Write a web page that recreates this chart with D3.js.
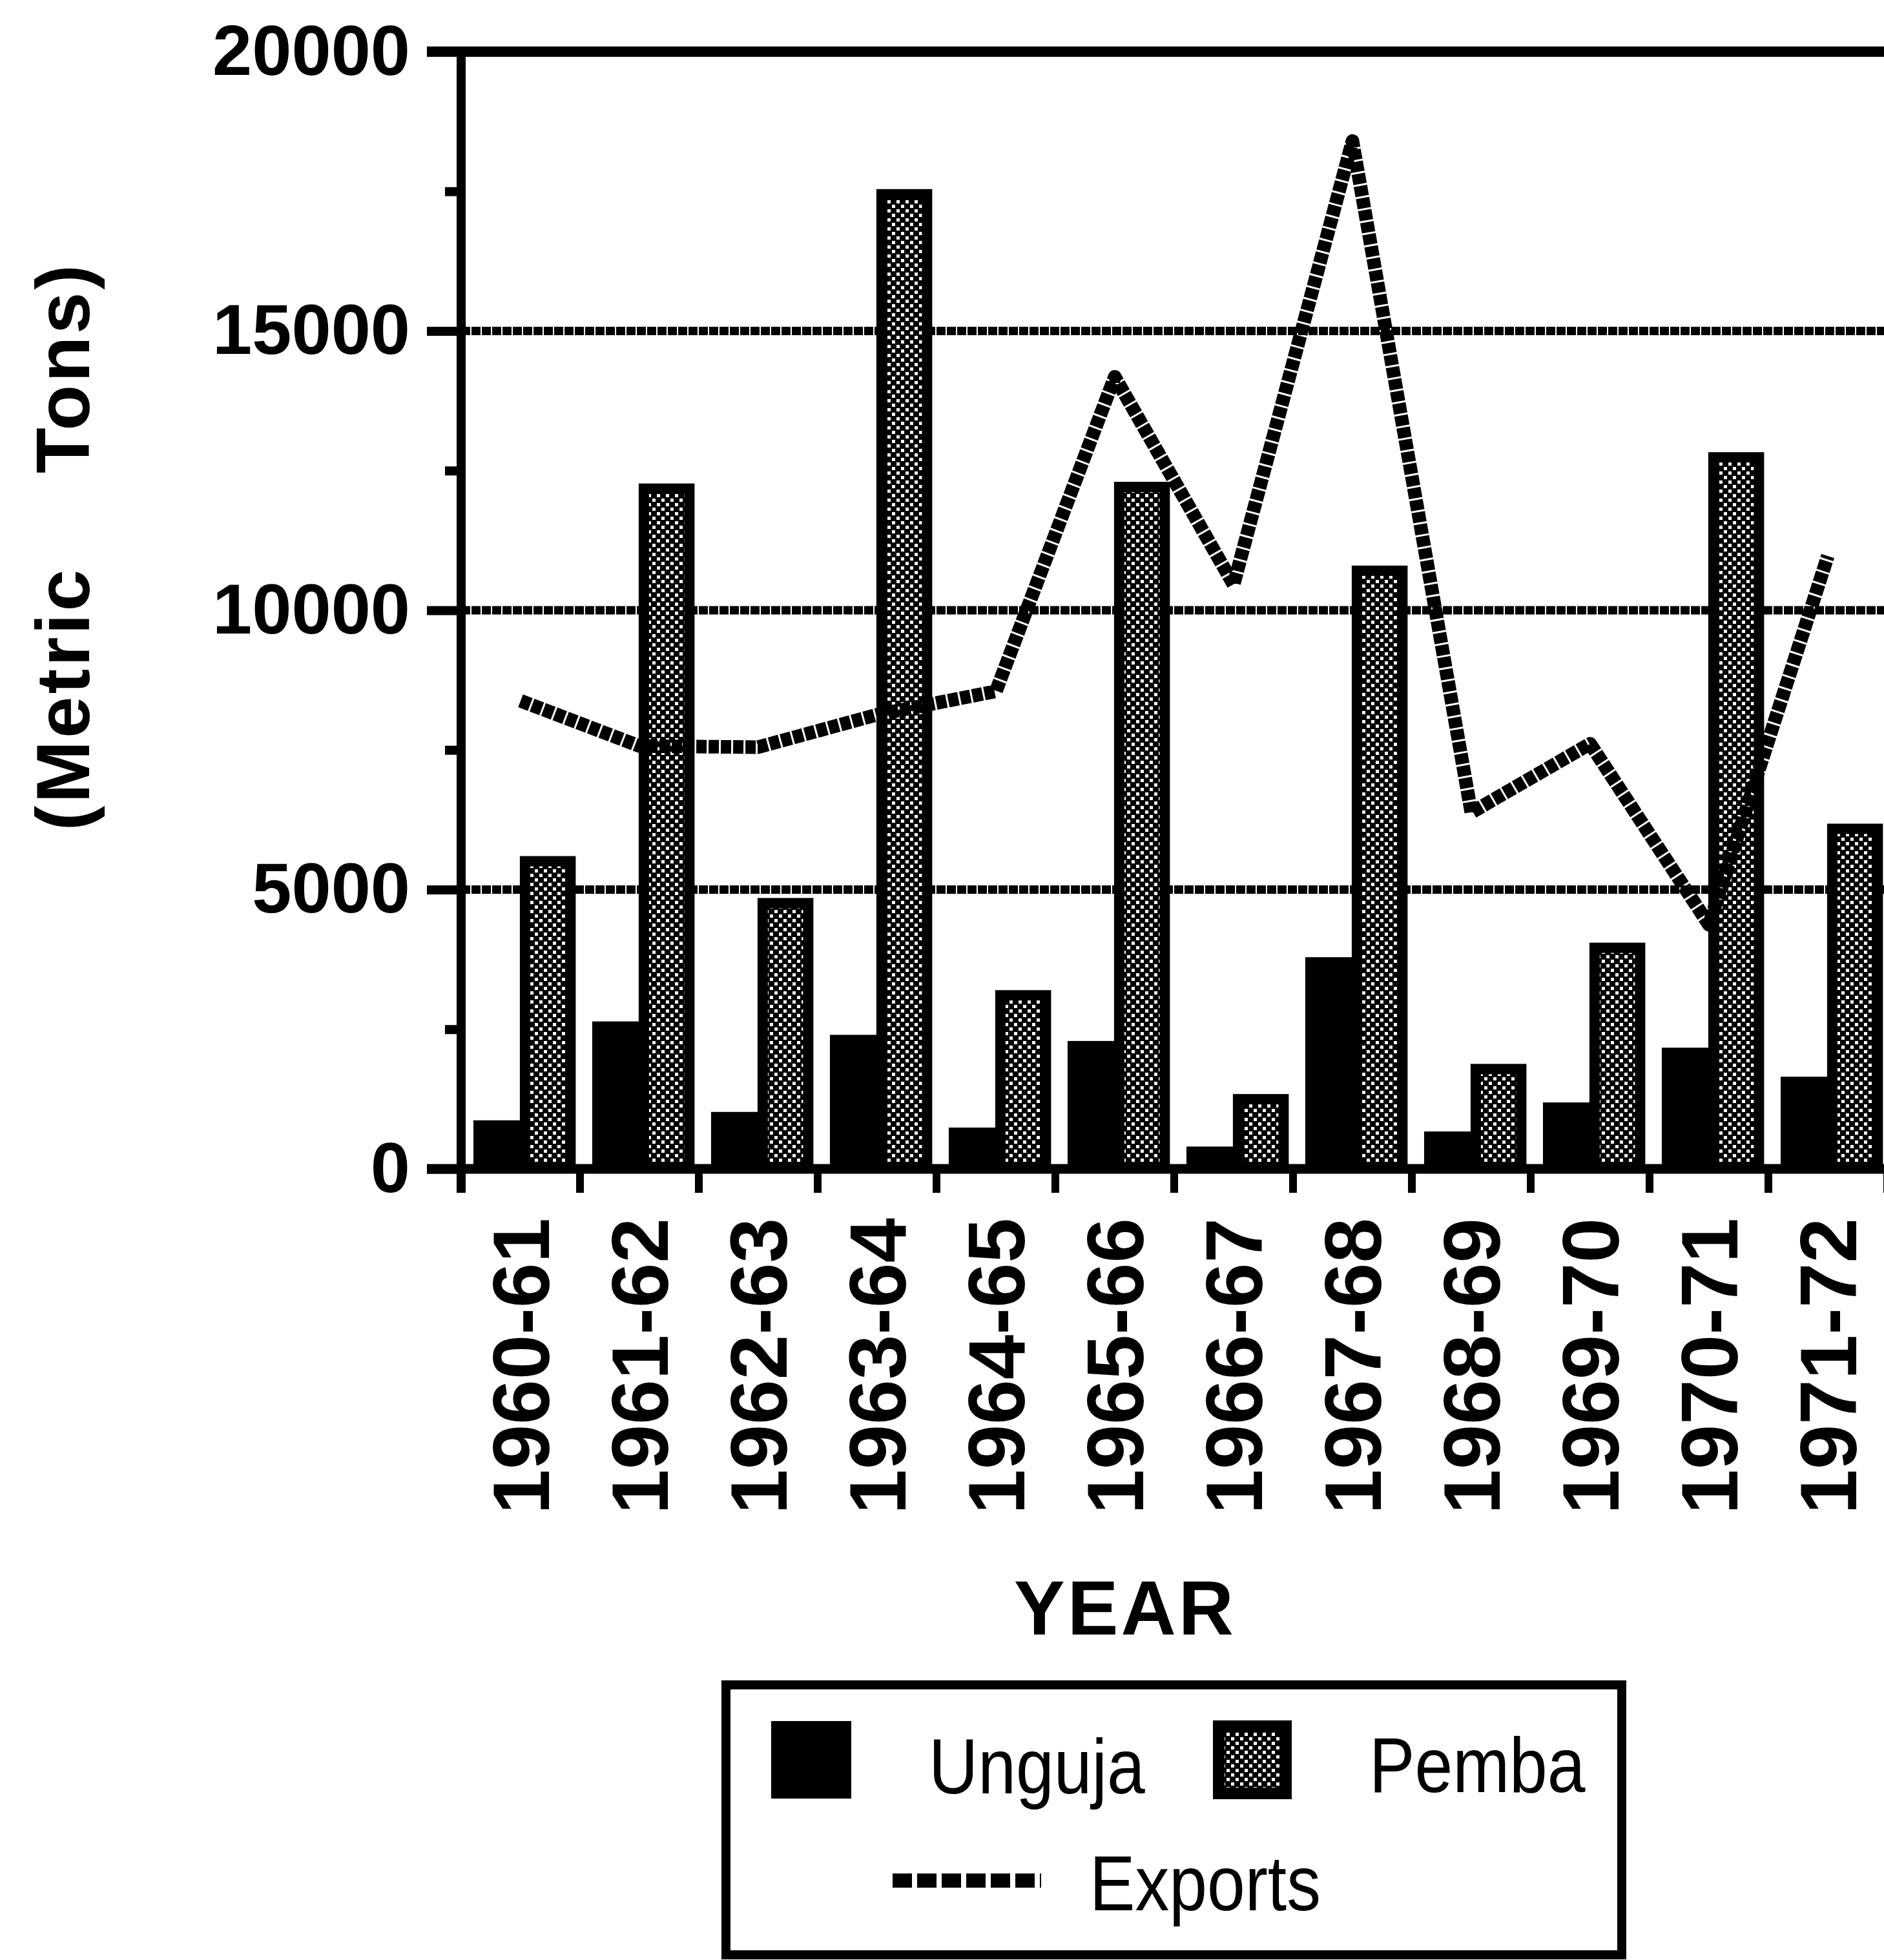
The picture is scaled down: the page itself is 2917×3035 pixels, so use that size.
<!DOCTYPE html>
<html>
<head>
<meta charset="utf-8">
<script src="https://d3js.org/d3.v7.min.js"></script>
<style>
  html, body { margin: 0; padding: 0; background: #fff; }
  svg { display: block; }
</style>
</head>
<body>
<div id="chart"></div>
<script>
// data (metric tons)
const years   = ['1960-61','1961-62','1962-63','1963-64','1964-65','1965-66',
                 '1966-67','1967-68','1968-69','1969-70','1970-71','1971-72'];
const unguja  = [870, 2640, 1020, 2400, 740, 2290, 400, 3790, 670, 1190, 2170, 1650];
const pemba   = [5600, 12270, 4850, 17540, 3200, 12300, 1340, 10800, 1880, 4050, 12830, 6180];
const exportsT = [8380, 7570, 7550, 8130, 8550, 14180, 10460, 18400, 6380, 7610, 4370, 10970];
const yMajor  = [0, 5000, 10000, 15000, 20000];
const yMinor  = [2500, 7500, 12500, 17500];
const gridVals = [5000, 10000, 15000];

const W = 2917, H = 3035;
const plotLeft = 714, plotTop = 80, plotBase = 1810;
const bandW = 184;
const FONT = '"Liberation Sans", Arial, Helvetica, sans-serif';

const svg = d3.select('#chart').append('svg')
  .attr('width', W)
  .attr('height', H);

svg.append('rect').attr('width', W).attr('height', H).attr('fill', '#fff');

// stipple fill for Pemba
const defs = svg.append('defs');
const pat = defs.append('pattern')
  .attr('id', 'stipple')
  .attr('patternUnits', 'userSpaceOnUse')
  .attr('width', 14).attr('height', 14);
pat.append('rect').attr('width', 14).attr('height', 14).attr('fill', '#000');
pat.append('rect').attr('x', 2).attr('y', 2).attr('width', 5).attr('height', 5).attr('fill', '#fff');
pat.append('rect').attr('x', 9).attr('y', 9).attr('width', 5).attr('height', 5).attr('fill', '#fff');

const x = d3.scaleBand()
  .domain(years)
  .range([plotLeft, plotLeft + bandW * years.length])
  .padding(0);
const y = d3.scaleLinear().domain([0, 20000]).range([plotBase, plotTop]);
const bw = x.bandwidth();

const rows = years.map((yr, i) => ({ yr, u: unguja[i], p: pemba[i], e: exportsT[i] }));

// gridlines
svg.append('g').attr('class', 'grid')
  .selectAll('line').data(gridVals).join('line')
  .attr('x1', plotLeft).attr('x2', W)
  .attr('y1', d => y(d)).attr('y2', d => y(d))
  .attr('stroke', '#000')
  .attr('stroke-width', 13)
  .attr('stroke-dasharray', '14 2');

// bars
const bars = svg.append('g').attr('class', 'bars');
bars.selectAll('rect.u').data(rows).join('rect')
  .attr('class', 'u')
  .attr('x', d => x(d.yr) + bw * 0.103)
  .attr('width', bw * 0.395)
  .attr('y', d => y(d.u))
  .attr('height', d => plotBase - y(d.u))
  .attr('fill', '#000');

const inset = 16;
bars.selectAll('rect.p').data(rows).join('rect')
  .attr('class', 'p')
  .attr('x', d => x(d.yr) + bw * 0.494)
  .attr('width', bw * 0.47)
  .attr('y', d => y(d.p))
  .attr('height', d => plotBase - y(d.p))
  .attr('fill', '#000');
bars.selectAll('rect.pi').data(rows).join('rect')
  .attr('class', 'pi')
  .attr('x', d => x(d.yr) + bw * 0.494 + inset)
  .attr('width', bw * 0.47 - 2 * inset)
  .attr('y', d => y(d.p) + inset)
  .attr('height', d => Math.max(0, plotBase - y(d.p) - inset - 10))
  .attr('fill', 'url(#stipple)');

// exports line
const line = d3.line()
  .x(d => x(d.yr) + bw / 2)
  .y(d => y(d.e));
svg.append('path')
  .datum(rows)
  .attr('d', line)
  .attr('fill', 'none')
  .attr('stroke', '#000')
  .attr('stroke-width', 21)
  .attr('stroke-dasharray', '16 3')
  .attr('stroke-linejoin', 'round');

// frame: top line, left axis, baseline
svg.append('line')
  .attr('x1', plotLeft - 53).attr('x2', W)
  .attr('y1', y(20000)).attr('y2', y(20000))
  .attr('stroke', '#000').attr('stroke-width', 16);
svg.append('line')
  .attr('x1', plotLeft).attr('x2', plotLeft)
  .attr('y1', y(20000)).attr('y2', plotBase + 37)
  .attr('stroke', '#000').attr('stroke-width', 14);
svg.append('line')
  .attr('x1', plotLeft - 53).attr('x2', W)
  .attr('y1', plotBase).attr('y2', plotBase)
  .attr('stroke', '#000').attr('stroke-width', 15);

// y axis
const yAxis = svg.append('g')
  .attr('transform', `translate(${plotLeft},0)`)
  .call(d3.axisLeft(y).tickValues(yMajor).tickSize(53).tickPadding(26).tickFormat(d3.format('d')));
yAxis.select('.domain').remove();
yAxis.selectAll('line').attr('stroke', '#000').attr('stroke-width', 14);
yAxis.selectAll('text')
  .attr('font-family', FONT)
  .attr('font-weight', 'bold')
  .attr('font-size', 110)
  .attr('fill', '#000');

const yMinorAxis = svg.append('g')
  .attr('transform', `translate(${plotLeft},0)`)
  .call(d3.axisLeft(y).tickValues(yMinor).tickSize(25).tickFormat(''));
yMinorAxis.select('.domain').remove();
yMinorAxis.selectAll('line').attr('stroke', '#000').attr('stroke-width', 14);

// x axis: ticks at band boundaries, labels at band centers
const bounds = years.map(d => x(d)).concat([x.range()[1]]);
svg.append('g').attr('class', 'xticks')
  .selectAll('line').data(bounds).join('line')
  .attr('x1', d => d).attr('x2', d => d)
  .attr('y1', plotBase).attr('y2', plotBase + 37)
  .attr('stroke', '#000').attr('stroke-width', 12);

const xAxis = svg.append('g')
  .attr('transform', `translate(0,${plotBase})`)
  .call(d3.axisBottom(x).tickSize(0));
xAxis.select('.domain').remove();
xAxis.selectAll('text')
  .attr('transform', 'rotate(-90)')
  .attr('x', -76)
  .attr('y', 0)
  .attr('dy', '0.35em')
  .attr('text-anchor', 'end')
  .attr('font-family', FONT)
  .attr('font-weight', 'bold')
  .attr('font-size', 125)
  .attr('fill', '#000');

// axis titles
svg.append('text')
  .attr('transform', 'translate(138,846) rotate(-90)')
  .attr('text-anchor', 'middle')
  .attr('font-family', FONT)
  .attr('font-weight', 'bold')
  .attr('font-size', 116)
  .attr('letter-spacing', 4)
  .style('white-space', 'pre')
  .text('(Metric    Tons)');

svg.append('text')
  .attr('x', 1742).attr('y', 2531)
  .attr('text-anchor', 'middle')
  .attr('font-family', FONT)
  .attr('font-weight', 'bold')
  .attr('font-size', 118)
  .attr('letter-spacing', 4)
  .text('YEAR');

// legend
const lg = svg.append('g').attr('class', 'legend');
lg.append('rect')
  .attr('x', 1124).attr('y', 2609)
  .attr('width', 1387).attr('height', 418)
  .attr('fill', '#fff')
  .attr('stroke', '#000').attr('stroke-width', 14);

lg.append('rect')
  .attr('x', 1194).attr('y', 2665).attr('width', 124).attr('height', 120)
  .attr('fill', '#000');
lg.append('rect')
  .attr('x', 1878).attr('y', 2664).attr('width', 122).attr('height', 122)
  .attr('fill', '#000');
lg.append('rect')
  .attr('x', 1878 + inset + 2).attr('y', 2664 + inset + 2)
  .attr('width', 122 - 2 * inset - 4).attr('height', 122 - 2 * inset - 4)
  .attr('fill', 'url(#stipple)');
lg.append('line')
  .attr('x1', 1382).attr('x2', 1612)
  .attr('y1', 2912).attr('y2', 2912)
  .attr('stroke', '#000').attr('stroke-width', 22)
  .attr('stroke-dasharray', '30 8');

const legendLabels = [
  { t: 'Unguja', x: 1438, y: 2777 },
  { t: 'Pemba', x: 2120, y: 2775 },
  { t: 'Exports', x: 1687, y: 2958 }
];
lg.selectAll('g.lab').data(legendLabels).join('g')
  .attr('class', 'lab')
  .attr('transform', d => `translate(${d.x},${d.y})`)
  .append('text')
  .attr('transform', 'scale(0.88,1)')
  .attr('font-family', FONT)
  .attr('font-size', 120)
  .attr('fill', '#000')
  .text(d => d.t);
</script>
</body>
</html>
